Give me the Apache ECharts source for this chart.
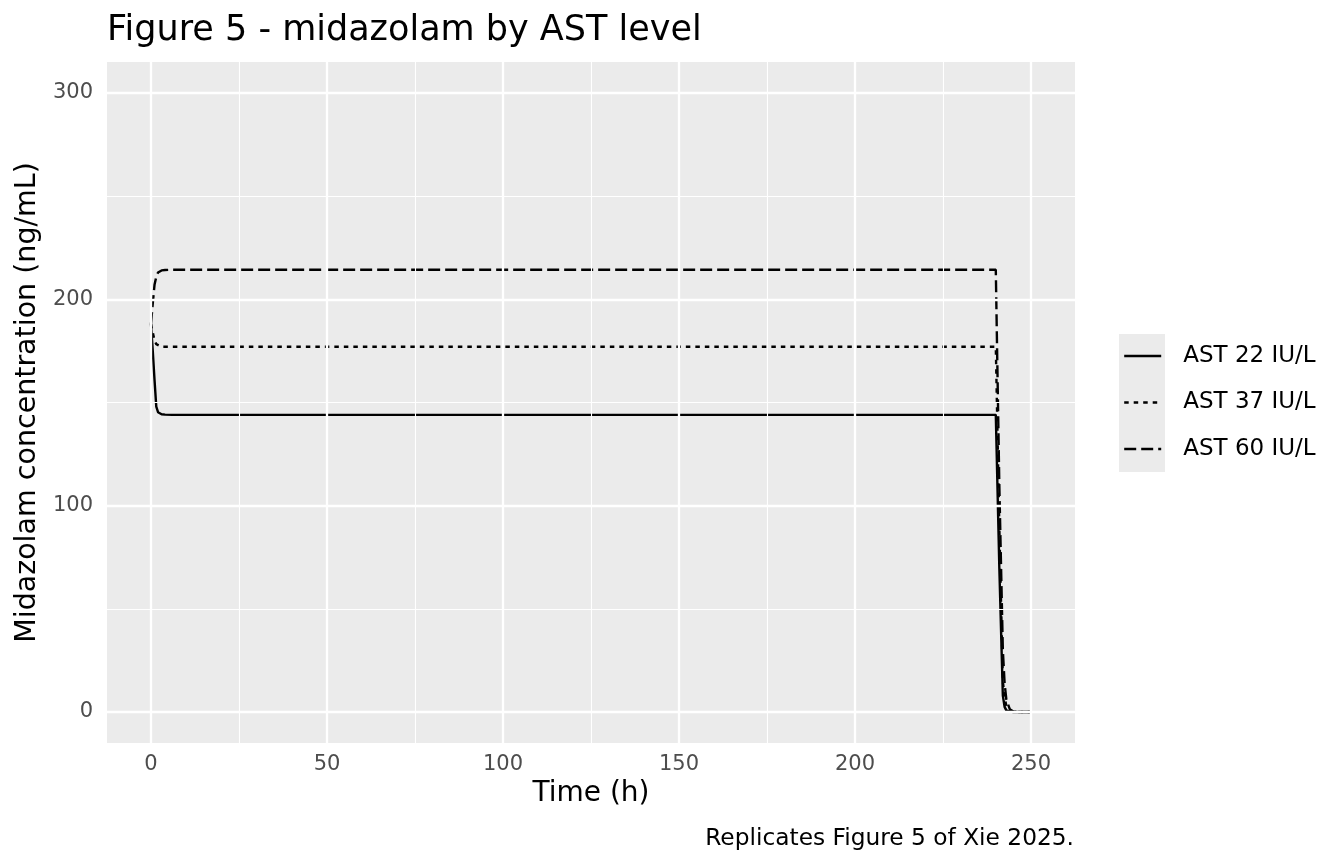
<!DOCTYPE html>
<html>
<head>
<meta charset="utf-8">
<script src="https://cdn.jsdelivr.net/npm/echarts@6/dist/echarts.min.js"></script>
<style>
html,body{margin:0;padding:0;background:#ffffff;}
#chart{width:1344px;height:864px;}
</style>
</head>
<body>
<div id="chart"></div>
<script>
// ---- data ----
const timeH = [0,0.5,1,1.5,2,3,4,6,12,24,48,72,96,120,144,168,192,216,240,241,242,242.5,243,244,245,246,247,248,250];
const ast22 = [188,175,161,148,145.3,144.3,144.1,144,144,144,144,144,144,144,144,144,144,144,144,70,8,2.5,0.8,0.2,0.05,0,0,0,0];
const ast37 = [188,184,180,178.3,177.5,177,177,177,177,177,177,177,177,177,177,177,177,177,177,90,15,7,3,0.6,0.1,0,0,0,0];
const ast60 = [188,198,207,211,213,214,214.2,214.3,214.3,214.3,214.3,214.3,214.3,214.3,214.3,214.3,214.3,214.3,214.3,110,30,14,6,1.3,0.3,0.1,0,0,0];
const seriesNames = ['AST 22 IU/L','AST 37 IU/L','AST 60 IU/L'];
const xTicks = [0,50,100,150,200,250];
const xMinor = [25,75,125,175,225];
const yTicks = [0,100,200,300];
const yMinor = [50,150,250];

const font = 'DejaVu Sans';
function pairs(vals){ return timeH.map((t,i)=>[t, vals[i]]); }

const chart = echarts.init(document.getElementById('chart'));

const gridLines = [];
xTicks.forEach(v=>gridLines.push({xAxis:v, lineStyle:{color:'#ffffff', width:2.3, type:'solid'}}));
xMinor.forEach(v=>gridLines.push({xAxis:v, lineStyle:{color:'#ffffff', width:1.1, type:'solid'}}));
yTicks.forEach(v=>gridLines.push({yAxis:v, lineStyle:{color:'#ffffff', width:2.3, type:'solid'}}));
yMinor.forEach(v=>gridLines.push({yAxis:v, lineStyle:{color:'#ffffff', width:1.1, type:'solid'}}));

const lineTypes = ['solid', [4.5,5], [12,5]];
const dataSets = [ast22, ast37, ast60];

const option = {
  animation: false,
  backgroundColor: '#ffffff',
  textStyle: {fontFamily: font},
  title: [
    {text: 'Figure 5 - midazolam by AST level', left: 107, top: 13, padding: 0,
     textStyle: {fontFamily: font, fontSize: 35, fontWeight: 'normal', color: '#000000'}},
    {text: 'Replicates Figure 5 of Xie 2025.', right: 270, top: 827, padding: 0,
     textStyle: {fontFamily: font, fontSize: 23.3, fontWeight: 'normal', color: '#000000'}}
  ],
  graphic: [
    {type: 'rect', shape: {x: 1119, y: 334, width: 46, height: 138}, style: {fill: '#EBEBEB'}, z: 0, silent: true}
  ],
  legend: {
    data: seriesNames.map(n => ({name: n, itemStyle: {color: 'rgba(0,0,0,0)', borderWidth: 0}})),
    orient: 'vertical',
    left: 1123, top: 343,
    padding: 0,
    itemWidth: 37, itemHeight: 14, itemGap: 20.5,
    itemStyle: {color: 'rgba(0,0,0,0)', borderWidth: 0},
    lineStyle: {width: 2.4, color: '#000000'},
    textStyle: {fontFamily: font, fontSize: 23, color: '#000000', lineHeight: 26, padding: [0,0,0,17]},
    z: 5
  },
  grid: {left: 107, right: 269, top: 62, bottom: 121, show: true, backgroundColor: '#EBEBEB', borderWidth: 0, containLabel: false},
  xAxis: {
    type: 'value', min: -12.5, max: 262.5,
    name: 'Time (h)', nameLocation: 'middle', nameGap: 29,
    nameTextStyle: {fontFamily: font, fontSize: 28, color: '#000000'},
    axisLine: {show: false},
    axisTick: {show: true, customValues: xTicks, length: 6, lineStyle: {color: '#333333', width: 2}},
    axisLabel: {show: true, customValues: xTicks, margin: 11, fontFamily: font, fontSize: 21, color: '#4D4D4D'},
    splitLine: {show: false}, minorSplitLine: {show: false}
  },
  yAxis: {
    type: 'value', min: -15, max: 315,
    name: 'Midazolam concentration (ng/mL)', nameLocation: 'middle', nameGap: 62, nameRotate: 90,
    nameTextStyle: {fontFamily: font, fontSize: 28.5, color: '#000000'},
    axisLine: {show: false},
    axisTick: {show: true, customValues: yTicks, length: 6, lineStyle: {color: '#333333', width: 2}},
    axisLabel: {show: true, customValues: yTicks, margin: 14, fontFamily: font, fontSize: 21, color: '#4D4D4D'},
    splitLine: {show: false}, minorSplitLine: {show: false}
  },
  series: [
    {
      name: '__grid', type: 'line', data: [], silent: true, z: 1,
      markLine: {silent: true, symbol: ['none','none'], label: {show: false}, animation: false, data: gridLines}
    }
  ].concat(dataSets.map((vals, i) => ({
    name: seriesNames[i], type: 'line', data: pairs(vals),
    symbol: 'none', showSymbol: false, smooth: false, z: 3,
    lineStyle: {color: '#000000', width: 2.4, type: lineTypes[i]},
    itemStyle: {color: '#000000'}
  })))
};
chart.setOption(option);
</script>
</body>
</html>
